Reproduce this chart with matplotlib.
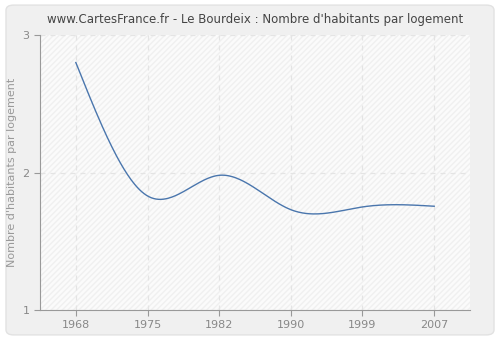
# Le Bourdeix - nombre d'habitants par logement
import numpy as np
import matplotlib
matplotlib.use('Agg')
import matplotlib.pyplot as plt
from matplotlib.patches import FancyBboxPatch

years = ['1968', '1975', '1982', '1990', '1999', '2007']
values = [2.80, 1.83, 1.98, 1.73, 1.75, 1.755]


def natural_spline(x, y, n=300):
    # plain natural cubic spline, only used to draw the smooth line
    x = np.asarray(x, float)
    y = np.asarray(y, float)
    k = len(x)
    h = np.diff(x)
    A = np.zeros((k, k))
    b = np.zeros(k)
    A[0, 0] = A[-1, -1] = 1
    for i in range(1, k - 1):
        A[i, i - 1] = h[i - 1]
        A[i, i] = 2 * (h[i - 1] + h[i])
        A[i, i + 1] = h[i]
        b[i] = 3 * ((y[i + 1] - y[i]) / h[i] - (y[i] - y[i - 1]) / h[i - 1])
    c = np.linalg.solve(A, b)
    xs = np.linspace(x[0], x[-1], n)
    idx = np.clip(np.searchsorted(x, xs) - 1, 0, k - 2)
    dx = xs - x[idx]
    hi = h[idx]
    bi = (y[idx + 1] - y[idx]) / hi - hi * (2 * c[idx] + c[idx + 1]) / 3
    di = (c[idx + 1] - c[idx]) / (3 * hi)
    ys = y[idx] + bi * dx + c[idx] * dx ** 2 + di * dx ** 3
    return xs, ys


fig = plt.figure(figsize=(5, 3.4), dpi=100)
fig.patch.set_facecolor('white')
bg = FancyBboxPatch((0.012, 0.015), 0.976, 0.97, boxstyle='round,pad=0,rounding_size=0.015',
                    transform=fig.transFigure, facecolor='#f0f0f0', edgecolor='#e2e2e2',
                    linewidth=1, zorder=-10)
fig.add_artist(bg)

ax = fig.add_axes([0.08, 0.088, 0.86, 0.809])
ax.set_zorder(1)
ax.set_facecolor('#fbfbfb')
ax.patch.set_hatch('//////')
ax.patch.set_edgecolor('#f0f0f0')
ax.patch.set_linewidth(0)

pos = np.arange(len(years))
xs, ys = natural_spline(pos, values)
ax.plot(xs, ys, color='#4a76ad', linewidth=1, zorder=3)

ax.set_xlim(-0.5, 5.5)
ax.set_ylim(1, 3)
ax.set_xticks(pos)
ax.set_xticklabels(years)
ax.set_yticks([1, 2, 3])

ax.grid(True, color='#e4e4e4', linestyle=(0, (4, 4)), linewidth=0.9)
ax.set_axisbelow(True)

for s in ['top', 'right']:
    ax.spines[s].set_visible(False)
for s in ['left', 'bottom']:
    ax.spines[s].set_color('#999999')
ax.tick_params(colors='#999999', labelcolor='#888888', labelsize=8, length=4)

ax.set_ylabel("Nombre d'habitants par logement", color='#999999', fontsize=8)
ax.set_title("www.CartesFrance.fr - Le Bourdeix : Nombre d'habitants par logement",
             color='#444444', fontsize=8.5, pad=9)

fig.savefig('out.png', dpi=100, facecolor=fig.get_facecolor())
